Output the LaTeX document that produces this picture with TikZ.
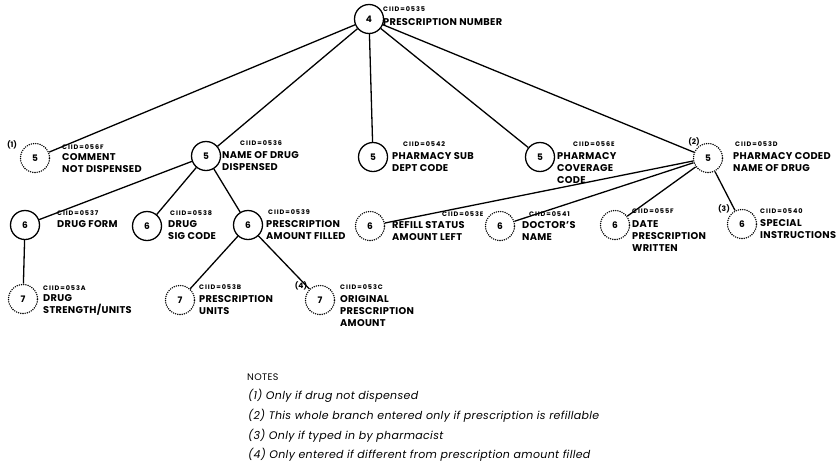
\documentclass[tikz,border=0pt]{standalone}
\usepackage{fontspec}
\setmainfont{Poppins}
\begin{document}
\begin{tikzpicture}[x=1pt,y=-1pt,
  fld/.style={circle,draw,line width=1.3pt,minimum size=29pt,inner sep=0pt,
    font=\fontsize{9}{9}\selectfont\bfseries},
  opt/.style={fld,line cap=round,line width=1.6pt,dash pattern=on 0pt off 2.2pt},
  lbl/.style={anchor=north west,align=left,inner sep=0pt,
    font=\fontsize{9.8}{12}\selectfont\bfseries\addfontfeatures{LetterSpace=3}},
  cid/.style={anchor=west,inner sep=0pt,
    font=\fontsize{6.5}{7}\selectfont\bfseries\addfontfeatures{LetterSpace=14}},
  tag/.style={inner sep=0pt,font=\fontsize{7.5}{8}\selectfont\bfseries},
  link/.style={line width=1.3pt},
  note/.style={anchor=west,inner sep=0pt,
    font=\fontsize{11}{12}\selectfont\itshape\addfontfeatures{LetterSpace=3}}]
\useasboundingbox (0,0) rectangle (837,461);

% level 4
\node[fld] (n4) at (369,19) {4};
\node[cid] at (383,9) {CIID=0535};
\node[lbl] at (383,18) {PRESCRIPTION NUMBER};

% level 5
\node[opt] (c1) at (35,158) {5};
\node[tag] at (12,145) {(1)};
\node[cid] at (62,147) {CIID=056F};
\node[lbl] at (62,153) {COMMENT\\NOT DISPENSED};

\node[fld] (n5a) at (206,156) {5};
\node[cid] at (240,143) {CIID=0536};
\node[lbl] at (222,151) {NAME OF DRUG\\DISPENSED};

\node[fld] (n5b) at (373,157) {5};
\node[cid] at (403,144) {CIID=0542};
\node[lbl] at (392,152) {PHARMACY SUB\\DEPT CODE};

\node[fld] (n5c) at (540,157) {5};
\node[cid] at (573,144) {CIID=056E};
\node[lbl] at (557,152) {PHARMACY\\COVERAGE\\CODE};

\node[opt] (n5d) at (708,158) {5};
\node[tag] at (694,142) {(2)};
\node[cid] at (735,144) {CIID=053D};
\node[lbl] at (733,152) {PHARMACY CODED\\NAME OF DRUG};

% level 6
\node[fld] (n6a) at (25,225) {6};
\node[cid] at (57,213) {CIID=0537};
\node[lbl] at (57,220) {DRUG FORM};

\node[fld] (n6b) at (147,226) {6};
\node[cid] at (170,213) {CIID=0538};
\node[lbl] at (168,220) {DRUG\\SIG CODE};

\node[fld] (n6c) at (248,225) {6};
\node[cid] at (268,212) {CIID=0539};
\node[lbl] at (266,220) {PRESCRIPTION\\AMOUNT FILLED};

\node[opt] (n6d) at (370,226) {6};
\node[cid] at (442,214) {CIID=053E};
\node[lbl] at (392,221) {REFILL STATUS\\AMOUNT LEFT};

\node[opt] (n6e) at (500,226) {6};
\node[cid] at (529,214) {CIID=0541};
\node[lbl] at (522,221) {DOCTOR'S\\NAME};

\node[opt] (n6f) at (615,225) {6};
\node[cid] at (632,211) {CIID=055F};
\node[lbl] at (632,220) {DATE\\PRESCRIPTION\\WRITTEN};

\node[opt] (n6g) at (742,224) {6};
\node[tag] at (724,209) {(3)};
\node[cid] at (760,211) {CIID=0540};
\node[lbl] at (760,219) {SPECIAL\\INSTRUCTIONS};

% level 7
\node[opt] (n7a) at (23,299) {7};
\node[cid] at (43,288) {CIID=053A};
\node[lbl] at (43,294) {DRUG\\STRENGTH/UNITS};

\node[opt] (n7b) at (180,300) {7};
\node[cid] at (199,287) {CIID=053B};
\node[lbl] at (199,295) {PRESCRIPTION\\UNITS};

\node[opt] (n7c) at (320,300) {7};
\node[tag] at (301,286) {(4)};
\node[cid] at (340,287) {CIID=053C};
\node[lbl] at (340,295) {ORIGINAL\\PRESCRIPTION\\AMOUNT};

% connectors
\foreach \t in {c1,n5a,n5b,n5c,n5d} \draw[link] (n4) -- (\t);
\foreach \t in {n6a,n6b,n6c} \draw[link] (n5a) -- (\t);
\foreach \t in {n6d,n6e,n6f,n6g} \draw[link] (n5d) -- (\t);
\draw[link] (n6a) -- (n7a);
\foreach \t in {n7b,n7c} \draw[link] (n6c) -- (\t);

% notes
\node[anchor=west,inner sep=0pt,font=\fontsize{9.5}{10}\selectfont\addfontfeatures{LetterSpace=4}] (notes) at (247,377) {NOTES};
\node[note] (m1) at (248,396) {(1) Only if drug not dispensed};
\node[note] (m2) at (248,416) {(2) This whole branch entered only if prescription is refillable};
\node[note] (m3) at (248,436) {(3) Only if typed in by pharmacist};
\node[note] (m4) at (248,455) {(4) Only entered if different from prescription amount filled};
\end{tikzpicture}
\end{document}
